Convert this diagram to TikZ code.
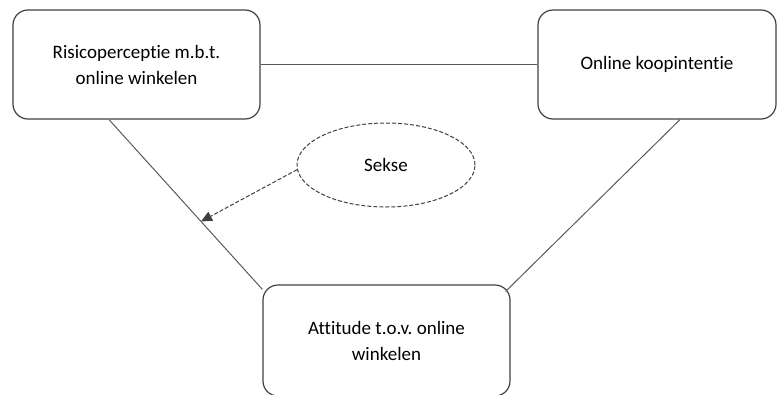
\documentclass[tikz,border=0pt]{standalone}
\usepackage{fontspec}
\setmainfont[Ligatures=NoCommon]{Carlito}
\usetikzlibrary{arrows.meta,shapes.geometric}
\definecolor{edgegray}{HTML}{404040}
\definecolor{linkgray}{HTML}{5A5A5A}
\frenchspacing
\tikzset{
  conceptbox/.style={draw=edgegray, line width=1.2pt, rounded corners=15pt,
    minimum width=247pt, minimum height=109pt, align=center, inner sep=0pt,
    font=\fontsize{19}{26}\selectfont},
  moderator/.style={draw=edgegray, dashed, dash pattern=on 4pt off 2pt, line width=1pt,
    ellipse, minimum width=178pt, minimum height=84pt, inner sep=0pt,
    font=\fontsize{19}{26}\selectfont},
  link/.style={draw=linkgray, line width=1pt},
  effect/.style={draw=edgegray, line width=1pt, dash pattern=on 4pt off 2pt,
    -{Triangle[length=11pt,width=10pt]}}
}
\begin{document}
\begin{tikzpicture}[x=1pt,y=-1pt]
  \useasboundingbox (0,0) rectangle (777,394);
  % the three constructs
  \node[conceptbox] (risk) at (136.5,64.5) {Risicoperceptie m.b.t.\\online winkelen};
  \node[conceptbox, minimum width=238pt] (intent) at (657,64.5) {Online koopintentie};
  \node[conceptbox, minimum height=111pt] (att) at (386.5,340.5) {Attitude t.o.v. online\\winkelen};
  % moderator
  \node[moderator] (sex) at (386,165) {Sekse};
  % relations between the constructs
  \draw[link] (risk.east) -- (intent.west);
  \draw[link] ([xshift=-27.5pt]risk.south) -- coordinate[pos=0.6] (hit) ([yshift=-5pt]att.north west);
  \draw[link] ([xshift=23pt]intent.south) -- ([xshift=-5pt,yshift=-7pt]att.north east);
  % moderating effect
  \draw[effect] (sex.183) -- (hit);
\end{tikzpicture}
\end{document}
